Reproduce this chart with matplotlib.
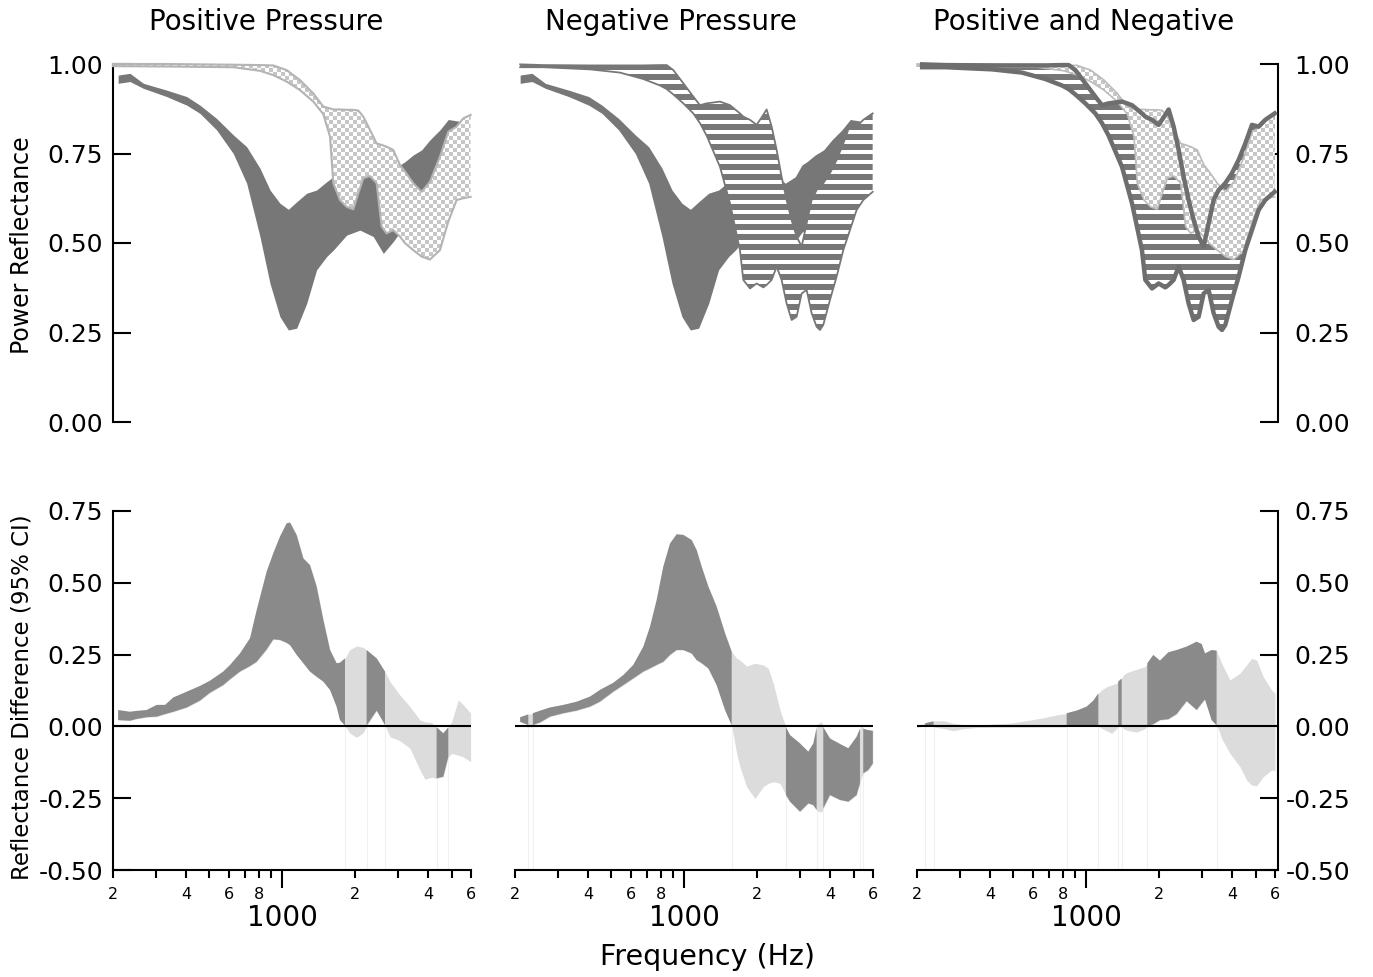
import numpy as np
import matplotlib
matplotlib.use('Agg')
import matplotlib.pyplot as plt
from matplotlib.patches import Polygon
from matplotlib.ticker import FixedLocator, FixedFormatter, NullLocator

plt.rcParams['font.family'] = ['DejaVu Sans']
plt.rcParams['axes.unicode_minus'] = False

# ---- top row: power reflectance bands (Hz, lower / upper edge) ----
# dark band (ambient pressure)
dark_freq = [210, 235, 267, 333, 403, 457, 535, 627, 712, 808, 889, 977, 1058, 1145, 1259, 1384, 1522,
             1622, 1841, 2089, 2371, 2608, 2867, 3055, 3203, 3467, 3753, 4062, 4467, 4836, 5488]
dark_hi = [0.969, 0.974, 0.946, 0.927, 0.909, 0.885, 0.848, 0.802, 0.769, 0.709, 0.648, 0.611, 0.594, 0.615,
           0.639, 0.648, 0.671, 0.685, 0.690, 0.685, 0.690, 0.667, 0.685, 0.718, 0.727, 0.746, 0.760, 0.788,
           0.816, 0.845, 0.839]
dark_lo = [0.946, 0.951, 0.932, 0.909, 0.885, 0.862, 0.816, 0.750, 0.667, 0.518, 0.387, 0.294, 0.257, 0.262,
           0.331, 0.425, 0.462, 0.480, 0.522, 0.536, 0.518, 0.471, 0.504, 0.530, 0.540, 0.560, 0.600, 0.620,
           0.650, 0.700, 0.740]

# positive pressure band (checker)
pos_freq = [200, 333, 627, 808, 917, 1041, 1182, 1341, 1475, 1572, 1622, 1728, 1841, 1961, 2057, 2157, 2297,
            2448, 2567, 2692, 2867, 3055, 3203, 3467, 3753, 4062, 4467, 4836, 5233, 5575, 5978]
pos_hi = [1.000, 1.000, 0.998, 0.997, 0.996, 0.983, 0.955, 0.918, 0.881, 0.876, 0.873, 0.873, 0.872, 0.872,
          0.870, 0.853, 0.816, 0.778, 0.774, 0.769, 0.760, 0.718, 0.700, 0.667, 0.643, 0.671, 0.741, 0.811,
          0.825, 0.848, 0.858]
pos_lo = [0.994, 0.993, 0.991, 0.981, 0.969, 0.951, 0.927, 0.895, 0.860, 0.797, 0.667, 0.620, 0.601, 0.594,
          0.639, 0.681, 0.687, 0.667, 0.546, 0.527, 0.536, 0.518, 0.500, 0.480, 0.462, 0.454, 0.480, 0.560,
          0.620, 0.625, 0.629]

# negative pressure band (stripes)
neg_freq = [210, 262, 408, 542, 677, 793, 845, 900, 990, 1088, 1159, 1235, 1402, 1542, 1695, 1750, 1865, 1986,
            2116, 2184, 2291, 2402, 2518, 2641, 2770, 2904, 3046, 3194, 3349, 3512, 3625, 3741, 3986, 4246,
            4524, 4819, 5134, 5470, 5980]
neg_hi = [0.999, 0.997, 0.996, 0.996, 0.996, 0.997, 0.997, 0.983, 0.946, 0.909, 0.885, 0.890, 0.895, 0.885,
          0.862, 0.853, 0.844, 0.830, 0.858, 0.873, 0.825, 0.760, 0.685, 0.620, 0.564, 0.518, 0.490, 0.555,
          0.620, 0.648, 0.657, 0.667, 0.695, 0.732, 0.778, 0.830, 0.825, 0.844, 0.862]
neg_lo = [0.991, 0.991, 0.985, 0.976, 0.958, 0.940, 0.930, 0.915, 0.890, 0.862, 0.835, 0.800, 0.713, 0.611,
          0.480, 0.397, 0.373, 0.387, 0.376, 0.383, 0.397, 0.434, 0.397, 0.331, 0.285, 0.294, 0.359, 0.369,
          0.304, 0.266, 0.257, 0.271, 0.341, 0.406, 0.480, 0.536, 0.592, 0.620, 0.643]

# ---- bottom row: reflectance difference, 95% CI ----
d1_freq = [210, 235, 250, 275, 303, 328, 355, 403, 457, 502, 570, 608, 668, 735, 783, 861, 917, 977, 1041,
           1075, 1145, 1220, 1299, 1384, 1475, 1572, 1673, 1728, 1812, 1900, 2024, 2157, 2226, 2448, 2650,
           2778, 3055, 3359, 3694, 3874, 4128, 4328, 4611, 4836, 4991, 5317, 5575, 5978]
d1_hi = [0.057, 0.051, 0.054, 0.057, 0.075, 0.075, 0.101, 0.121, 0.141, 0.159, 0.191, 0.214, 0.254, 0.307,
         0.405, 0.539, 0.603, 0.661, 0.707, 0.710, 0.666, 0.585, 0.562, 0.487, 0.371, 0.266, 0.220, 0.222,
         0.237, 0.268, 0.280, 0.275, 0.266, 0.237, 0.191, 0.156, 0.109, 0.069, 0.022, 0.016, 0.013, -0.003,
         -0.024, -0.003, 0.016, 0.092, 0.075, 0.046]
d1_lo = [0.022, 0.020, 0.026, 0.032, 0.034, 0.043, 0.051, 0.066, 0.090, 0.117, 0.144, 0.164, 0.191, 0.210,
         0.225, 0.268, 0.303, 0.301, 0.291, 0.283, 0.249, 0.220, 0.191, 0.173, 0.156, 0.127, 0.069, 0.022,
         0.003, -0.024, -0.038, -0.022, 0.003, 0.055, 0.005, -0.036, -0.050, -0.076, -0.152, -0.184, -0.177,
         -0.181, -0.175, -0.106, -0.094, -0.100, -0.106, -0.123]

d2_freq = [210, 227, 232, 237, 254, 279, 317, 359, 408, 448, 509, 560, 615, 677, 721, 768, 818, 872, 929, 990,
           1071, 1123, 1178, 1255, 1358, 1471, 1567, 1643, 1695, 1806, 1955, 2116, 2219, 2326, 2479, 2624,
           2726, 2998, 3245, 3403, 3512, 3568, 3683, 3741, 3986, 4383, 4745, 5134, 5301, 5385, 5470, 5737, 5990]
d2_hi = [0.032, 0.042, 0.044, 0.046, 0.055, 0.066, 0.075, 0.086, 0.104, 0.127, 0.152, 0.179, 0.214, 0.278,
         0.347, 0.440, 0.556, 0.637, 0.669, 0.667, 0.649, 0.614, 0.556, 0.487, 0.417, 0.324, 0.260, 0.237,
         0.231, 0.210, 0.220, 0.214, 0.202, 0.150, 0.057, -0.003, -0.030, -0.059, -0.088, -0.059, -0.004,
         0.011, 0.016, -0.003, -0.042, -0.061, -0.076, -0.036, -0.008, 0.005, -0.008, -0.013, -0.015]
d2_lo = [0.016, 0.005, -0.004, 0.005, 0.014, 0.034, 0.046, 0.055, 0.069, 0.086, 0.121, 0.144, 0.167, 0.191,
         0.202, 0.214, 0.225, 0.249, 0.266, 0.266, 0.254, 0.231, 0.220, 0.202, 0.144, 0.057, 0.004, -0.094,
         -0.140, -0.210, -0.251, -0.210, -0.198, -0.193, -0.198, -0.239, -0.262, -0.297, -0.268, -0.274,
         -0.291, -0.297, -0.297, -0.285, -0.239, -0.256, -0.262, -0.239, -0.198, -0.175, -0.163, -0.152, -0.129]

d3_freq = [200, 216, 234, 237, 257, 282, 311, 352, 413, 484, 567, 664, 754, 815, 829, 911, 1002, 1068, 1120,
           1156, 1212, 1271, 1332, 1353, 1398, 1420, 1466, 1612, 1744, 1783, 1888, 2011, 2177, 2356, 2591,
           2849, 2988, 3084, 3285, 3445, 3500, 3613, 3910, 4299, 4581, 4804, 5038, 5367, 5808, 6000]
d3_hi = [0.000, 0.011, 0.018, 0.019, 0.020, 0.011, 0.006, 0.005, 0.008, 0.011, 0.020, 0.030, 0.040, 0.044,
         0.046, 0.055, 0.069, 0.090, 0.115, 0.127, 0.138, 0.144, 0.150, 0.156, 0.167, 0.179, 0.187, 0.199,
         0.208, 0.220, 0.249, 0.229, 0.258, 0.266, 0.278, 0.295, 0.287, 0.254, 0.266, 0.264, 0.249, 0.220,
         0.162, 0.185, 0.214, 0.237, 0.231, 0.173, 0.127, 0.115]
d3_lo = [-0.003, 0.002, 0.002, -0.003, -0.007, -0.015, -0.008, -0.004, -0.003, -0.003, -0.003, -0.002, -0.002,
         -0.002, 0.002, 0.003, 0.004, 0.005, 0.002, -0.007, -0.015, -0.024, -0.008, 0.002, 0.002, -0.008,
         -0.013, -0.020, -0.008, 0.002, 0.008, 0.022, 0.025, 0.043, 0.088, 0.057, 0.080, 0.094, 0.022, 0.004,
         -0.007, -0.042, -0.094, -0.140, -0.187, -0.204, -0.207, -0.175, -0.152, -0.154]

titles = ['Positive Pressure', 'Negative Pressure', 'Positive and Negative']
minor_ticks = [200, 300, 400, 500, 600, 700, 800, 900, 2000, 3000, 4000, 5000, 6000]
minor_labels = ['2', '', '4', '', '6', '', '8', '', '2', '', '4', '', '6']

W, H = 1373, 977
fig = plt.figure(figsize=(W / 100, H / 100), dpi=100)


def rect(x0, x1, y0, y1):
    return [x0 / W, 1 - y1 / H, (x1 - x0) / W, (y1 - y0) / H]


cols = [(113, 471), (515, 873), (917, 1278)]
ax_top = [fig.add_axes(rect(x0, x1, 64, 422)) for x0, x1 in cols]
ax_bot = [fig.add_axes(rect(x0, x1, 511, 870)) for x0, x1 in cols]


def set_limits():
    for i, ax in enumerate(ax_top + ax_bot):
        ax.set_xscale('log')
        ax.set_xlim(200, 6173 if i % 3 == 2 else 6000)
    for ax in ax_top:
        ax.set_ylim(0, 1)
    for ax in ax_bot:
        ax.set_ylim(-0.5, 0.75)


set_limits()
for ax in ax_top + ax_bot:
    for s in ax.spines.values():
        s.set_visible(False)
        s.set_linewidth(1.5)


def pattern(ax, kind):
    bb = ax.get_position()
    w, h = int(round(bb.width * W)), int(round(bb.height * H))
    yy, xx = np.mgrid[0:h, 0:w]
    if kind == 'checker':
        on = (yy // 4 + xx // 4) % 2 == 0
        c = 0.78
    else:
        on = (yy % 10) < 6
        c = 0.47
    img = np.where(on, c, 1.0)
    return np.dstack([img, img, img])


def pattern_band(ax, f, lo, hi, kind, z):
    f = np.asarray(f)
    verts = np.column_stack([np.r_[f, f[::-1]], np.r_[hi, lo[::-1]]])
    clip = Polygon(verts, closed=True, facecolor='none', edgecolor='none')
    ax.add_patch(clip)
    im = ax.imshow(pattern(ax, kind), extent=[0, 1, 0, 1], transform=ax.transAxes,
                   aspect='auto', interpolation='nearest', zorder=z)
    im.set_clip_path(clip)


def diff_band(ax, f, lo, hi):
    f, lo, hi = np.asarray(f), np.asarray(lo), np.asarray(hi)
    sig = (lo > 0) | (hi < 0)
    ax.fill_between(f, lo, hi, color='#dcdcdc', lw=0, zorder=2)
    ax.fill_between(f, lo, hi, where=sig, color='#8a8a8a', lw=0, zorder=3)
    edges = []
    for i in range(len(f) - 1):
        if sig[i] != sig[i + 1]:
            edges.append(i if sig[i] else i + 1)
    ax.vlines(f[edges], -0.5, lo[edges], color='#f0f0f0', lw=0.8, zorder=1)
    ax.axhline(0, color='black', lw=1.5, zorder=5)


# Positive pressure
ax = ax_top[0]
ax.fill_between(dark_freq, dark_lo, dark_hi, color='#777777', lw=0, zorder=2)
pattern_band(ax, pos_freq, pos_lo, pos_hi, 'checker', 3)
ax.plot(pos_freq, pos_hi, color='#b4b4b4', lw=1.5, zorder=4, clip_on=False)
ax.plot(pos_freq, pos_lo, color='#b4b4b4', lw=1.5, zorder=4, clip_on=False)

# Negative pressure
ax = ax_top[1]
ax.fill_between(dark_freq, dark_lo, dark_hi, color='#777777', lw=0, zorder=2)
pattern_band(ax, neg_freq, neg_lo, neg_hi, 'stripes', 3)
ax.plot(neg_freq, neg_hi, color='#777777', lw=1.3, zorder=4, clip_on=False)
ax.plot(neg_freq, neg_lo, color='#777777', lw=1.3, zorder=4, clip_on=False)

# Positive and negative
ax = ax_top[2]
pattern_band(ax, neg_freq, neg_lo, neg_hi, 'stripes', 2)
pattern_band(ax, pos_freq, pos_lo, pos_hi, 'checker', 3)
ax.plot(pos_freq, pos_hi, color='#bcbcbc', lw=1.2, zorder=4, clip_on=False)
ax.plot(pos_freq, pos_lo, color='#bcbcbc', lw=1.2, zorder=4, clip_on=False)
ax.plot(neg_freq, neg_hi, color='#6e6e6e', lw=3.2, zorder=5, clip_on=False)
ax.plot(neg_freq, neg_lo, color='#6e6e6e', lw=3.2, zorder=5, clip_on=False)

diff_band(ax_bot[0], d1_freq, d1_lo, d1_hi)
diff_band(ax_bot[1], d2_freq, d2_lo, d2_hi)
diff_band(ax_bot[2], d3_freq, d3_lo, d3_hi)

# imshow works in axes coords; put the data limits back
set_limits()

# axes decoration
top_ticks = [0, 0.25, 0.5, 0.75, 1.0]
bot_ticks = [-0.5, -0.25, 0, 0.25, 0.5, 0.75]
for ax in ax_top:
    ax.tick_params(axis='x', which='both', bottom=False, labelbottom=False)
    ax.set_yticks(top_ticks)
    ax.set_yticklabels(['%.2f' % v for v in top_ticks])
for ax in ax_bot:
    ax.set_yticks(bot_ticks)
    ax.set_yticklabels(['%.2f' % v for v in bot_ticks])
    ax.xaxis.set_major_locator(FixedLocator([1000]))
    ax.xaxis.set_major_formatter(FixedFormatter(['1000']))
    ax.xaxis.set_minor_locator(FixedLocator(minor_ticks))
    ax.xaxis.set_minor_formatter(FixedFormatter(minor_labels))
    ax.tick_params(axis='x', which='major', direction='out', length=13, width=1.5, labelsize=20, pad=11.5)
    ax.tick_params(axis='x', which='minor', direction='out', length=6, width=1.5, labelsize=11.5, pad=6)
    ax.spines['bottom'].set_visible(True)

for row in (ax_top, ax_bot):
    a0, a1, a2 = row
    a0.spines['left'].set_visible(True)
    a0.tick_params(axis='y', which='both', direction='in', length=13, width=1.5, labelsize=18, pad=7)
    a0.yaxis.set_minor_locator(NullLocator())
    a1.tick_params(axis='y', which='both', left=False, labelleft=False)
    a2.spines['right'].set_visible(True)
    a2.yaxis.set_minor_locator(NullLocator())
    a2.tick_params(axis='y', which='both', left=False, labelleft=False, right=True, labelright=True,
                   direction='in', length=13, width=1.5, labelsize=18, pad=52)
    plt.setp(a2.get_yticklabels(), ha='right')

# titles and labels
for t, xc in zip(titles, [266, 671, 1084]):
    fig.text(xc / W, 1 - 22 / H, t, ha='center', va='center', fontsize=20)
fig.text(22 / W, 1 - 245 / H, 'Power Reflectance', rotation=90, ha='center', va='center', fontsize=17)
fig.text(22 / W, 1 - 697 / H, 'Reflectance Difference (95% CI)', rotation=90, ha='center', va='center',
         fontsize=16.5)
fig.text(707 / W, 1 - 957 / H, 'Frequency (Hz)', ha='center', va='center', fontsize=20.5)

fig.savefig('out.png', dpi=100)
